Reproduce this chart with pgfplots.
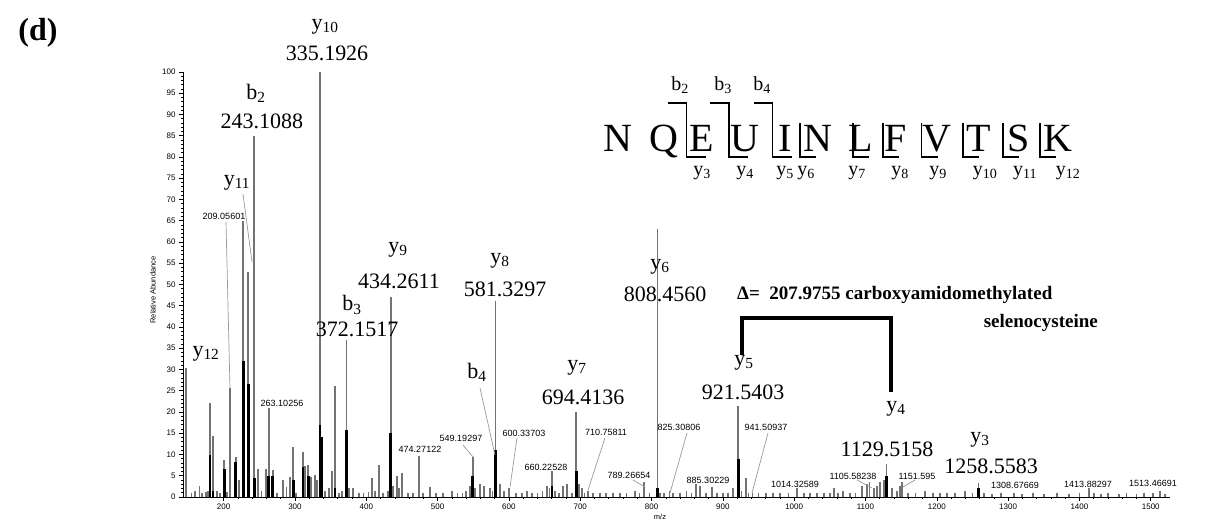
\documentclass[border=0pt]{standalone}
\usepackage{pgfplots}
\pgfplotsset{compat=1.18}
\usepackage{fontspec}
\setmainfont{Liberation Serif}
\setsansfont{Liberation Sans}
\newcommand\fs[1]{\fontsize{#1}{#1}\selectfont}
\newcommand\sub[2]{#1\textsubscript{#2}}

\pgfplotstableread{
m h
147.1 30.3
155 1.0
160 1.5
166 2.6
170 1.0
175 1.2
178 1.5
181 22
185 14.4
191 1.3
195 1.0
201 8.7
205 1.2
209.06 25.6
217 9.3
222 4.0
227.5 65
234.6 53
243.11 85
248.6 6.5
253 1.5
259 6.5
263.10 21
268.8 6.3
275 1.0
282.8 4.0
288 2.4
293 4.8
297.7 11.8
302 1.0
311 10.7
314 7.3
318.7 7.5
323 4.8
328 5.2
331 4.0
335.19 100
338 14
342 1.5
348 2.0
351.5 6.0
356 26
362 1.0
366 1.5
372.15 37
376 2.0
381 2.0
390 1.0
396 1.0
403 1.2
407.6 4.4
412 1.5
418 7.5
424 1.0
430 1.5
434.26 47
438 2.5
442.6 5.0
446 2.0
450.5 5.7
458 1.0
466 1.0
474.27 9.6
480 1.0
489 2.4
498 1.0
508 1.0
519.7 1.3
528 1.0
535 1.0
540 1.5
545.4 2.5
549.19 9.3
553 2.0
559.4 3.0
565.5 2.5
573.5 2.0
577 1.5
581.33 46
587.5 3.0
593 1.5
600.34 2.0
610 1.0
618 1.0
624.9 1.5
632 1.0
640 1.0
647 1.5
653 2.5
657 2.0
660.23 6.0
665 1.5
670 1.0
676 2.5
681 3.0
688 1.0
694.41 19.9
698 3.0
702 2.0
706 1.0
710.76 1.5
718 1.0
727.7 1.0
736 1.0
746 1.0
756 1.0
765 1.0
776.8 1.5
783 1.0
789.27 3.6
797 1.0
808.46 63
812 1.0
818 1.0
825.31 1.5
830.5 1.0
840 1.0
849 1.5
856 1.0
862 3.0
868 2.5
876 1.0
885.30 2.3
892 1.0
900 1.0
907 1.0
914.6 2.0
921.54 21.4
926 1.5
932.4 4.4
936 1.0
941.51 1.0
950 1.0
960 1.0
970 1.0
980 1.0
992 1.0
1004 2.0
1014.33 1.0
1022 1.0
1031.5 1.0
1042 1.0
1050 1.0
1055.8 2.0
1062 1.0
1069 1.5
1078 1.0
1086 1.0
1094.6 2.5
1101.6 3.0
1105.58 3.6
1112 2.0
1116 2.5
1120 3.5
1126 4.0
1129.52 7.7
1136.7 2.0
1143.7 1.5
1148 2.5
1151.6 3.5
1160 1.0
1170 1.0
1183 1.5
1195 1.0
1205 1.0
1214 1.0
1225 1.0
1239.5 1.5
1250 1.0
1258.56 3.4
1266 1.0
1277 0.8
1290 1.0
1308.68 1.0
1320 0.8
1335 1.0
1350 0.8
1368 1.0
1385 0.8
1400 1.0
1413.88 2.0
1420 1.0
1430 0.8
1440.4 1.0
1455 0.8
1466 1.0
1480 0.8
1490 1.0
1503.5 1.0
1513.47 1.5
1520 0.8
}\graypeaks

\pgfplotstableread{
m h
181 9.9
185 1.5
201 6.7
217 8.3
227.5 32
234.6 26.5
243.11 4.5
263.10 5
268.8 5
297.7 4
311 7
318.7 5
335.19 17
338 14
356 2
372.15 15.8
434.26 15
549.19 5
581.33 11
660.23 2.5
694.41 6
808.46 2
921.54 9
1129.52 5
1258.56 2
}\darkpeaks

\begin{document}
\begin{tikzpicture}
\useasboundingbox (-183pt,-24pt) rectangle (1022pt,497pt);
\begin{axis}[at={(0pt,0pt)}, anchor=south west, scale only axis,
  width=987pt, height=425pt,
  xmin=143, xmax=1527, ymin=0, ymax=100, clip=false,
  axis x line=bottom, axis y line=left,
  axis line style={-, line width=0.8pt},
  xtick={200,300,...,1500}, ytick={0,5,...,100},
  minor x tick num=4, minor y tick num=4,
  tick align=outside, major tick length=4pt, minor tick length=2pt,
  tick style={black, line width=0.6pt},
  /pgf/number format/assume math mode=true,
  /pgf/number format/1000 sep={},
  tick label style={font=\sffamily\fs{8}},
  xticklabel style={yshift=1pt},
]
\addplot[ycomb, draw=black!55, line width=1.8pt, mark=none] table[x=m, y=h] {\graypeaks};
\addplot[ycomb, draw=black, line width=2.6pt, mark=none] table[x=m, y=h] {\darkpeaks};
\end{axis}

\begin{scope}[shift={(-183pt,497pt)}, x=1pt, y=-1pt]
% panel label
\node[font=\bfseries\fs{32}, inner sep=0] at (38,33) {(d)};
% axis labels
\node[font=\sffamily\fs{7.5}, rotate=90, inner sep=0] at (153,290) {Relative Abundance};
\node[font=\sffamily\fs{7.5}, inner sep=0] at (660,517) {m/z};

% big peak labels
\begin{scope}[every node/.style={font=\fs{22}, inner sep=0}]
\node at (325,27) {\sub{y}{10}};
\node at (327,53) {335.1926};
\node at (256,93) {\sub{b}{2}};
\node at (262,121) {243.1088};
\node at (237,183) {\sub{y}{11}};
\node at (206,354) {\sub{y}{12}};
\node at (352,305) {\sub{b}{3}};
\node at (357,329) {372.1517};
\node at (398,250) {\sub{y}{9}};
\node at (399,281) {434.2611};
\node at (500,261) {\sub{y}{8}};
\node at (505,289) {581.3297};
\node at (660,267) {\sub{y}{6}};
\node at (665,294) {808.4560};
\node at (477,372) {\sub{b}{4}};
\node at (577,368) {\sub{y}{7}};
\node at (583,397) {694.4136};
\node at (744,363) {\sub{y}{5}};
\node at (743,392) {921.5403};
\node at (896,409) {\sub{y}{4}};
\node at (887,449) {1129.5158};
\node at (980,440) {\sub{y}{3}};
\node at (991,466) {1258.5583};
\end{scope}

% small peak labels
\begin{scope}[every node/.style={font=\sffamily\fs{9}, inner sep=0}]
\node at (224,216) {209.05601};
\node at (282,403) {263.10256};
\node at (420,449) {474.27122};
\node at (461,438) {549.19297};
\node at (524,433) {600.33703};
\node at (546,467) {660.22528};
\node at (606,432) {710.75811};
\node at (629,475) {789.26654};
\node at (679,427) {825.30806};
\node at (708,480) {885.30229};
\node at (766,427) {941.50937};
\node at (795,484) {1014.32589};
\node at (853,476) {1105.58238};
\node at (917,476) {1151.595};
\node at (1015,485) {1308.67669};
\node at (1088,484) {1413.88297};
\node at (1153,483) {1513.46691};
\end{scope}

% leader lines
\begin{scope}[draw=black!40, line width=0.7pt]
\draw (226,222) -- (230,389);
\draw (243,194) -- (252,262);
\draw (480,388) -- (495,455);
\draw (463,445) -- (473,457);
\draw (517,438) -- (510,487);
\draw (605,438) -- (588,490);
\draw (633,480) -- (645,487);
\draw (687,433) -- (670,493);
\draw (768,433) -- (752,493);
\draw (857,480) -- (872,488);
\draw (915,480) -- (903,487);
\end{scope}

% delta bracket
\draw[line width=3.5pt, line cap=butt, line join=miter] (742,355) -- (742,318) -- (891,318) -- (891,392);
\node[font=\bfseries\fs{19}, anchor=base west, inner sep=0] at (737,300) {Δ=~~207.9755 carboxyamidomethylated};
\node[font=\bfseries\fs{19}, anchor=base east, inner sep=0] at (1098,328) {selenocysteine};

% peptide sequence
\begin{scope}[every node/.style={font=\fs{40}, anchor=base, inner sep=0}]
\node at (618,152) {N};
\node at (664,152) {Q};
\node at (702,152) {E};
\node at (744.5,152) {U};
\node at (785,152) {I};
\node at (818,152) {N};
\node at (861,152) {L};
\node at (896,152) {F};
\node at (936.5,152) {V};
\node at (978.5,152) {T};
\node at (1018.5,152) {S};
\node at (1058,152) {K};
\end{scope}
\begin{scope}[line width=1.4pt]
\foreach \x in {686.7,729,772.7} {
  \draw (\x-19,103) -- (\x,103) -- (\x,157) -- (\x+19,157);
}
\foreach \x in {800,853,883,921.7,963,1003,1040} {
  \draw (\x,123) -- (\x,157) -- (\x+16,157);
}
\end{scope}
\begin{scope}[every node/.style={font=\fs{20}, inner sep=0}]
\node at (680,85) {\sub{b}{2}};
\node at (723,85) {\sub{b}{3}};
\node at (762,85) {\sub{b}{4}};
\node at (702,173) {\sub{y}{3}};
\node at (745,173) {\sub{y}{4}};
\node at (785,173) {\sub{y}{5}};
\node at (806,173) {\sub{y}{6}};
\node at (857,173) {\sub{y}{7}};
\node at (900,173) {\sub{y}{8}};
\node at (938,173) {\sub{y}{9}};
\node at (985,173) {\sub{y}{10}};
\node at (1025,173) {\sub{y}{11}};
\node at (1068,173) {\sub{y}{12}};
\end{scope}
\end{scope}
\end{tikzpicture}
\end{document}
